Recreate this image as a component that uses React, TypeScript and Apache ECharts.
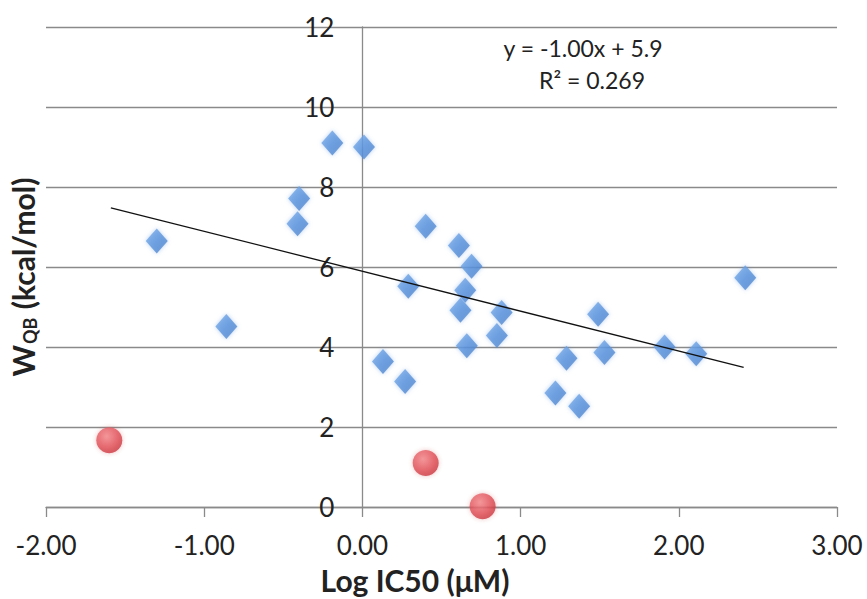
import React, { useEffect, useRef } from "react";
import * as echarts from "echarts";

// Log IC50 (µM) vs W_QB (kcal/mol)
const blueX = [-1.30, -0.86, -0.40, -0.41, -0.19, 0.01, 0.13, 0.27, 0.29, 0.40, 0.61, 0.69, 0.65, 0.62, 0.66, 0.85, 0.88, 1.22, 1.29, 1.37, 1.49, 1.53, 1.91, 2.11, 2.42];
const blueY = [6.65, 4.51, 7.71, 7.08, 9.10, 9.00, 3.64, 3.14, 5.52, 7.02, 6.54, 6.02, 5.42, 4.92, 4.03, 4.29, 4.86, 2.85, 3.72, 2.52, 4.82, 3.86, 4.00, 3.83, 5.73];
const redX = [-1.60, 0.40, 0.76];
const redY = [1.67, 1.10, 0.02];
const trendX = [-1.59, 2.41];
const trendY = [7.48, 3.49];
const xTicks = ["-2.00", "-1.00", "0.00", "1.00", "2.00", "3.00"];
const equationLines = ["y = -1.00x + 5.9", "R² = 0.269"];
const xTitle = "Log IC50 (μM)";
const yTitle = "{w|W}{s|QB}{w| (kcal/mol)}";

const FONT = "Lato, 'Noto Sans', 'DejaVu Sans', sans-serif";

const GRID_LEFT = 46;
const GRID_RIGHT = 30;
const W = 867;
const X_MIN = -2;
const X_MAX = 3;

export default function App() {
  const ref = useRef<HTMLDivElement>(null);
  useEffect(() => {
    if (!ref.current) return;
    const chart = echarts.init(ref.current, null, { renderer: "svg" });
    const blue = blueX.map((x, i) => [x, blueY[i]]);
    const red = redX.map((x, i) => [x, redY[i]]);
    const trend = trendX.map((x, i) => [x, trendY[i]]);
    const plotW = W - GRID_LEFT - GRID_RIGHT;
    const zeroOffset = -((0 - X_MIN) / (X_MAX - X_MIN)) * plotW;
    chart.setOption({
      animation: false,
      backgroundColor: "#ffffff",
      textStyle: { fontFamily: FONT },
      grid: {
        left: GRID_LEFT,
        right: GRID_RIGHT,
        top: 27,
        bottom: 92,
        containLabel: false,
        outerBoundsMode: "none",
      },
      xAxis: {
        type: "value",
        min: X_MIN,
        max: X_MAX,
        interval: 1,
        axisLine: { onZero: true, lineStyle: { color: "#8a8a8a", width: 1.3 } },
        axisTick: { show: true, length: 10, lineStyle: { color: "#8a8a8a", width: 1.3 } },
        splitLine: { show: false },
        axisLabel: {
          fontSize: 26,
          color: "#222",
          margin: 25,
          fontFamily: FONT,
          formatter: (v: number) => xTicks[Math.round(v - X_MIN)] ?? "",
        },
      },
      yAxis: {
        type: "value",
        min: 0,
        max: 12,
        interval: 2,
        position: "left",
        offset: zeroOffset,
        axisLine: { show: true, onZero: false, lineStyle: { color: "#8a8a8a", width: 1.3 } },
        axisTick: { show: false },
        splitLine: { show: true, lineStyle: { color: "#8a8a8a", width: 1.3 } },
        axisLabel: {
          fontSize: 26,
          color: "#222",
          margin: 28,
          fontFamily: FONT,
          padding: [10, 0, 0, 0],
        },
      },
      graphic: [
        {
          type: "text",
          x: 583,
          y: 48,
          style: { text: equationLines[0], align: "center", verticalAlign: "middle", fill: "#222", font: `23px ${FONT}` },
        },
        {
          type: "text",
          x: 592,
          y: 80,
          style: { text: equationLines[1], align: "center", verticalAlign: "middle", fill: "#222", font: `23px ${FONT}` },
        },
        {
          type: "text",
          x: 415,
          y: 580,
          style: { text: xTitle, align: "center", verticalAlign: "middle", fill: "#222", font: `bold 30px ${FONT}` },
        },
        {
          type: "text",
          x: 23,
          y: 277,
          rotation: Math.PI / 2,
          style: {
            text: yTitle,
            align: "center",
            verticalAlign: "middle",
            fill: "#222",
            font: `bold 30px ${FONT}`,
            rich: {
              w: { fontSize: 30, fontWeight: "bold", fill: "#222", fontFamily: FONT },
              s: { fontSize: 18, fontWeight: "bold", fill: "#222", fontFamily: FONT, padding: [13, 1, 0, 1] },
            },
          },
        },
      ],
      series: [
        {
          type: "scatter",
          data: blue,
          symbol: "diamond",
          symbolSize: [22, 25],
          itemStyle: {
            color: new echarts.graphic.LinearGradient(0, 0, 1, 1, [
              { offset: 0, color: "#80b2ee" },
              { offset: 0.5, color: "#5b93dc" },
              { offset: 1, color: "#4a7fc8" },
            ]),
            shadowBlur: 4,
            shadowColor: "rgba(80,140,220,0.5)",
          },
          z: 3,
        },
        {
          type: "scatter",
          data: red,
          symbol: "circle",
          symbolSize: 26,
          itemStyle: {
            color: new echarts.graphic.RadialGradient(0.4, 0.35, 0.7, [
              { offset: 0, color: "#f48a8e" },
              { offset: 0.6, color: "#e2535b" },
              { offset: 1, color: "#c9343c" },
            ]),
            shadowBlur: 4,
            shadowColor: "rgba(200,60,60,0.4)",
          },
          z: 3,
        },
        {
          type: "line",
          data: trend,
          symbol: "none",
          lineStyle: { color: "#111", width: 1.3 },
          z: 4,
        },
      ],
    });
    return () => chart.dispose();
  }, []);
  return (
    <div
      ref={ref}
      style={{ width: 867, height: 599, position: "fixed", left: 0, top: 0 }}
    />
  );
}
